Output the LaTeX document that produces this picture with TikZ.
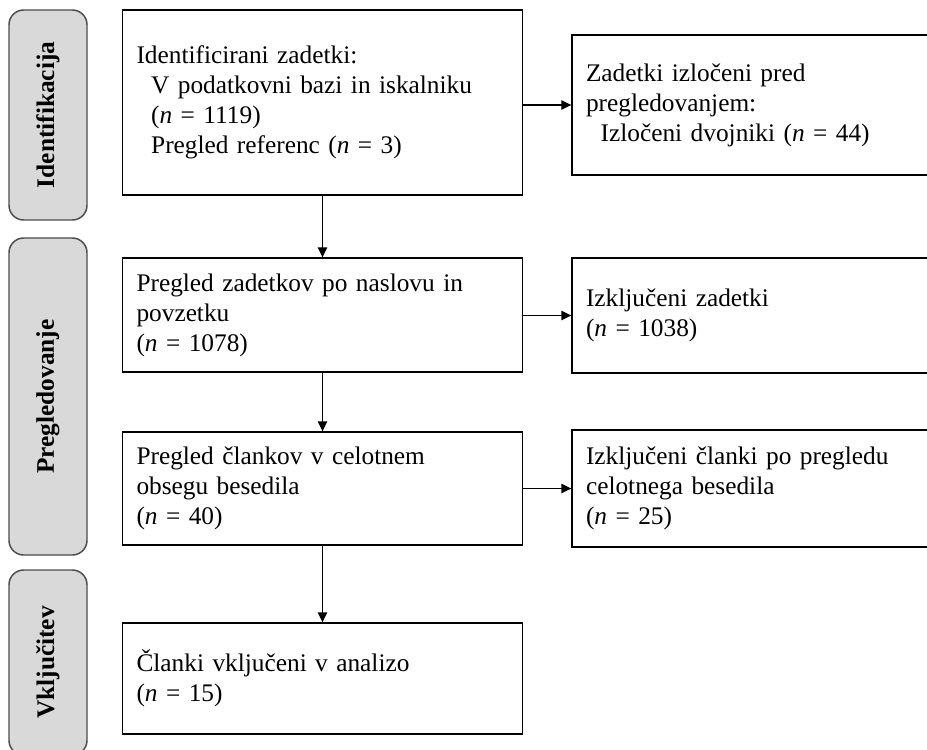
\documentclass[tikz,border=0pt]{standalone}
\usepackage{fontspec}
\setmainfont{Liberation Serif}
\usetikzlibrary{calc,arrows.meta}
\newcommand{\pxu}{0.75pt}
\newcommand{\ind}{\hspace*{11pt}}
\tikzset{
 stagebox/.style = {draw=black, line width=1pt, rectangle, align=left,
  inner xsep=10.5pt, inner ysep=0pt, font=\fontsize{19}{22.5}\selectfont},
 leftbox/.style = {stagebox, text width=279pt, minimum width=399*\pxu},
 rightbox/.style = {stagebox, text width=255pt, minimum width=368*\pxu},
 phasebox/.style = {draw=black!70, line width=1.1pt, fill=black!15,
  rounded corners=11pt, rotate=90, minimum height=78*\pxu,
  font=\fontsize{19}{22}\selectfont\bfseries},
 flowarrow/.style = {-{Triangle[length=7.5pt, width=7pt]}, line width=1pt}
}
\begin{document}
\begin{tikzpicture}[x=\pxu, y=-\pxu]
    \useasboundingbox (0,0) rectangle (927,749);
    \clip (0,0) rectangle (927,749);

    % phases on the left
    \node[phasebox, minimum width=210*\pxu] (phIdent) at (48, 115) {Identifikacija};
    \node[phasebox, minimum width=317*\pxu] (phScreen) at (48, 396.5) {Pregledovanje};
    \node[phasebox, minimum width=185*\pxu] (phIncl) at (48, 662.5) {Vključitev};

    % main column
    \node[leftbox, minimum height=185*\pxu] (ident) at (322.5, 102.5)
      {Identificirani zadetki:\\
       \ind V podatkovni bazi in iskalniku\\
       \ind (\textit{n} = 1119)\\
       \ind Pregled referenc (\textit{n} = 3)};
    \node[leftbox, minimum height=114*\pxu] (screen) at (322.5, 315)
      {Pregled zadetkov po naslovu in\\ povzetku\\ (\textit{n} = 1078)};
    \node[leftbox, minimum height=113*\pxu] (full) at (322.5, 488.5)
      {Pregled člankov v celotnem\\ obsegu besedila\\ (\textit{n} = 40)};
    \node[leftbox, minimum height=111*\pxu] (incl) at (322.5, 678.5)
      {Članki vključeni v analizo\\ (\textit{n} = 15)};

    % excluded records
    \node[rightbox, minimum height=140*\pxu] (dup) at (756, 105)
      {Zadetki izločeni pred\\ pregledovanjem:\\
       \ind Izločeni dvojniki (\textit{n} = 44)\\[8pt]};
    \node[rightbox, minimum height=115*\pxu] (exScreen) at (756, 315.5)
      {Izključeni zadetki\\ (\textit{n} = 1038)};
    \node[rightbox, minimum height=117*\pxu] (exFull) at (756, 488.5)
      {Izključeni članki po pregledu\\ celotnega besedila\\ (\textit{n} = 25)};

    \draw[flowarrow] (ident) -- (screen);
    \draw[flowarrow] (screen) -- (full);
    \draw[flowarrow] (full) -- (incl);
    \draw[flowarrow] (ident.east |- dup.west) -- (dup.west);
    \draw[flowarrow] (screen.east |- exScreen.west) -- (exScreen.west);
    \draw[flowarrow] (full.east |- exFull.west) -- (exFull.west);
\end{tikzpicture}
\end{document}
